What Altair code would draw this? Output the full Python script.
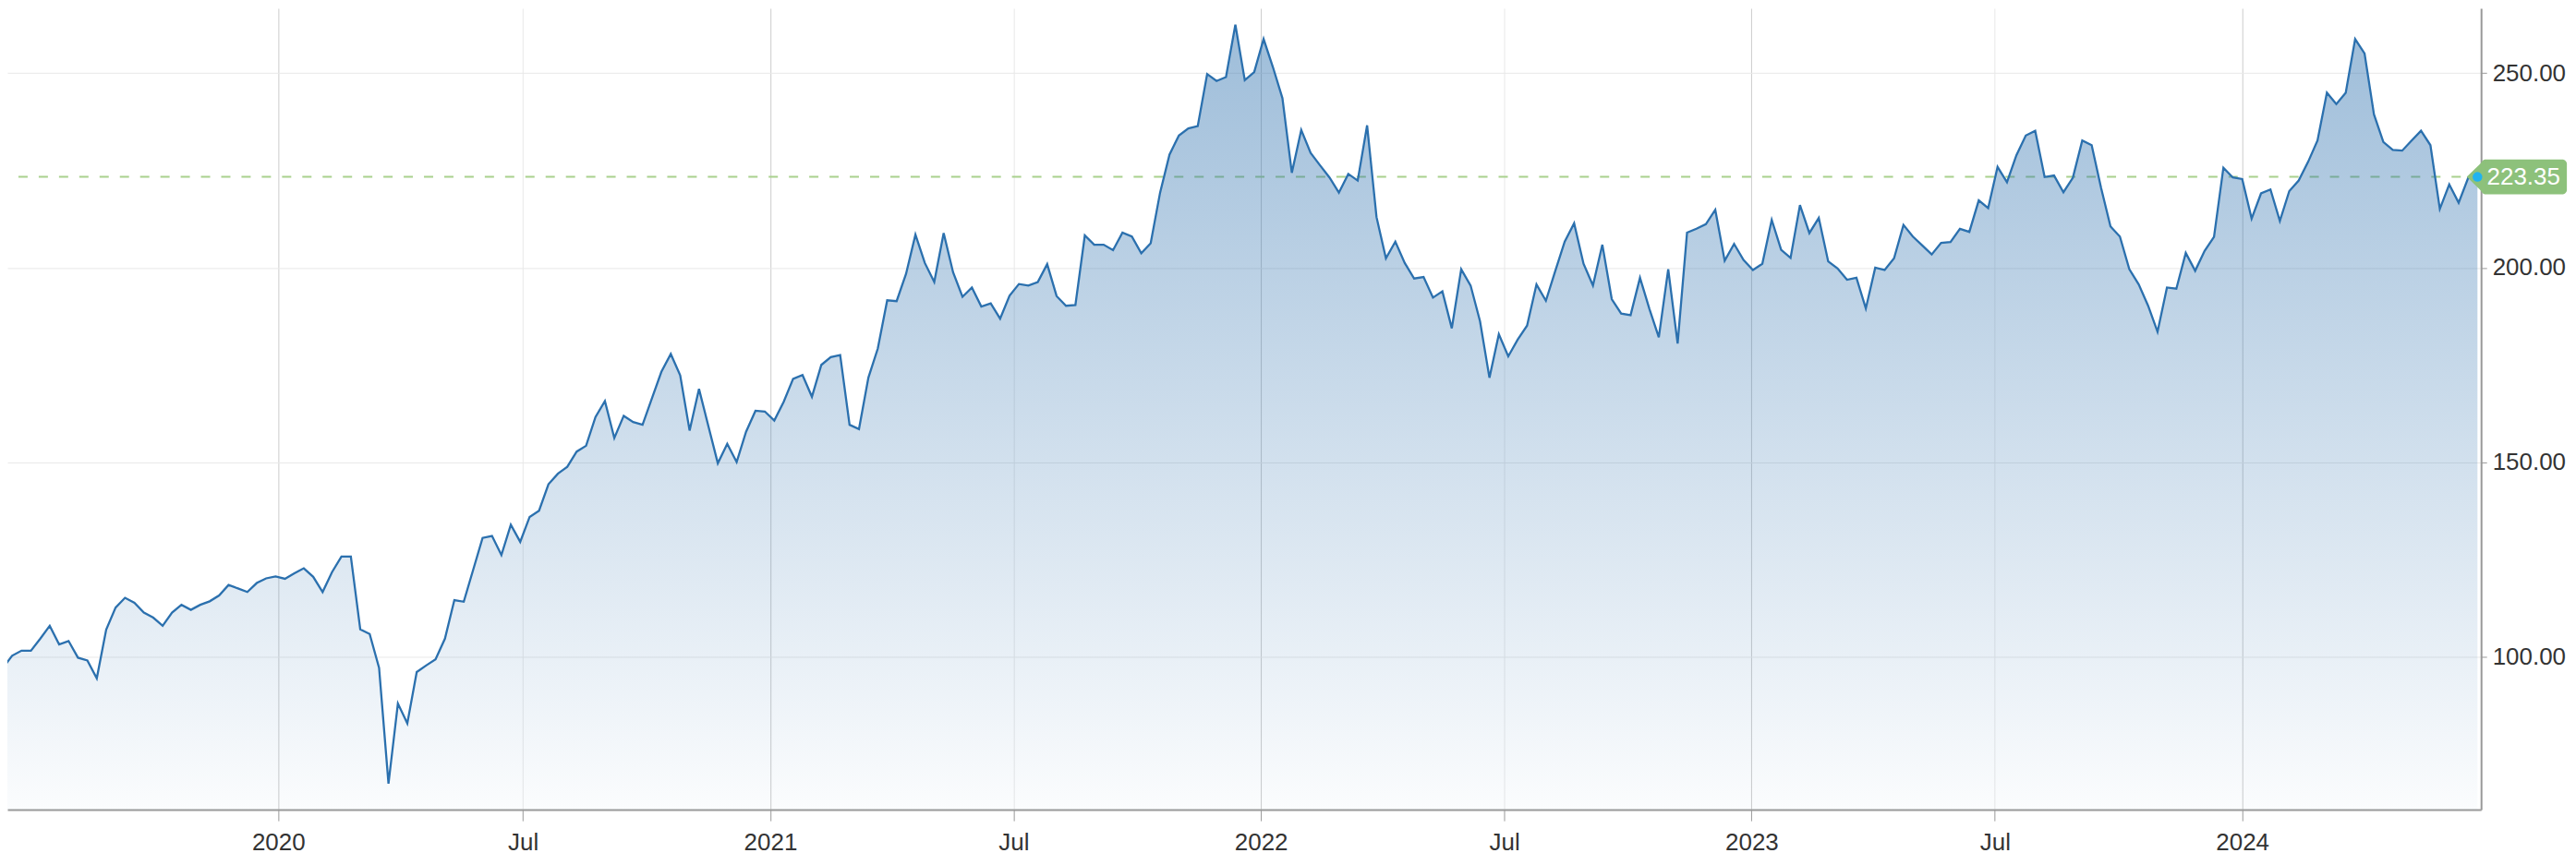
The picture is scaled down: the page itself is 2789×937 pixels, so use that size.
import altair as alt
import pandas as pd

# Weekly closing prices (Mondays)
start_date = "2019-06-10"
prices_2019 = [97.0, 100.2, 101.5, 101.5, 104.6, 107.9, 103.1, 104.0, 99.7, 99.0,
               94.4, 106.9, 112.6, 115.1, 113.8, 111.3, 110.0, 107.9, 111.3, 113.3,
               112.0, 113.3, 114.2, 115.7, 118.4, 117.5, 116.6, 118.9, 120.1, 120.6]
prices_2020 = [120.0, 121.4, 122.7, 120.5, 116.6, 121.7, 125.7, 125.7, 107.0, 105.8,
               97.1, 67.3, 87.9, 82.8, 96.0, 97.7, 99.3, 104.6, 114.5, 114.1,
               122.3, 130.5, 131.0, 126.1, 133.9, 129.5, 135.9, 137.5, 144.3, 147.0,
               148.8, 152.7, 154.2, 161.6, 165.7, 156.2, 161.9, 160.3, 159.6, 166.4,
               173.2, 177.8, 172.3, 158.1, 168.8, 159.2, 149.7, 154.7, 150.0, 157.8,
               163.2, 163.0]
prices_2021 = [160.7, 165.5, 171.4, 172.4, 166.8, 175.0, 177.0, 177.5, 159.6, 158.5,
               171.7, 179.2, 191.6, 191.4, 198.4, 208.5, 201.2, 196.3, 208.9, 198.8,
               192.5, 194.9, 190.0, 190.8, 186.9, 192.8, 195.8, 195.4, 196.3, 200.9,
               192.7, 190.2, 190.4, 208.3, 205.9, 205.9, 204.5, 209.0, 208.0, 203.7,
               206.3, 219.3, 229.1, 234.0, 235.8, 236.4, 249.8, 248.0, 249.0, 262.5,
               248.2, 250.3]
prices_2022 = [258.8, 251.5, 243.6, 224.4, 235.4, 229.5, 226.3, 223.2, 219.3, 224.1,
               222.4, 236.6, 213.0, 202.4, 206.7, 201.2, 197.2, 197.6, 192.3, 193.9,
               184.4, 199.6, 195.4, 186.2, 171.7, 182.9, 177.2, 181.5, 185.1, 195.7,
               191.5, 199.2, 206.7, 211.4, 201.0, 195.4, 205.9, 191.9, 188.2, 187.8,
               197.4, 189.4, 182.1, 199.6, 180.5, 209.0, 210.0, 211.2, 214.9, 201.8,
               206.1, 202.0]
prices_2023 = [199.4, 201.0, 212.3, 204.6, 202.5, 216.1, 208.9, 212.8, 201.6, 199.8,
               196.9, 197.4, 189.5, 200.0, 199.4, 202.4, 211.0, 208.0, 205.7, 203.4,
               206.4, 206.6, 210.0, 209.2, 217.3, 215.3, 225.9, 222.0, 228.9, 234.0,
               235.2, 223.3, 223.7, 219.4, 223.1, 232.7, 231.5, 220.5, 210.6, 208.0,
               199.6, 195.7, 190.2, 183.5, 194.9, 194.6, 203.8, 199.2, 204.3, 207.9,
               225.7, 223.2]
prices_2024 = [222.8, 212.6, 219.1, 220.1, 212.0, 219.7, 222.4, 227.2, 232.7, 245.0,
               242.1, 245.0, 258.8, 255.1, 239.4, 232.3, 230.3, 230.1, 232.7, 235.2,
               231.5, 215.1, 221.4, 216.7, 223.0, 223.35]

# Axis tick values
x_tick_dates = [(2020, 1), (2020, 7), (2021, 1), (2021, 7), (2022, 1),
                (2022, 7), (2023, 1), (2023, 7), (2024, 1)]
y_ticks = [100, 150, 200, 250]
y_domain = [60.6, 266.7]

all_prices = prices_2019 + prices_2020 + prices_2021 + prices_2022 + prices_2023 + prices_2024
dates = pd.date_range(start_date, periods=len(all_prices), freq="7D")
df = pd.DataFrame({"date": dates.strftime("%Y-%m-%d"), "price": all_prices})

last = df.iloc[[-1]].copy()
last["label"] = last["price"].map(lambda v: f"{v:.2f}")

FONT = "Liberation Sans"
LINE_COLOR = "#2b70ae"
LABEL_GREEN = "#8dc17b"

x_domain = [alt.DateTime(year=2019, month=6, date=13, hours=12, utc=True),
            alt.DateTime(year=2024, month=6, date=26, hours=16, utc=True)]

x_enc = alt.X(
    "date:T",
    scale=alt.Scale(type="utc", domain=x_domain),
    axis=alt.Axis(
        values=[alt.DateTime(year=y, month=m, date=1, utc=True) for (y, m) in x_tick_dates],
        labelExpr="utcmonth(datum.value) == 0 ? utcFormat(datum.value, '%Y') : utcFormat(datum.value, '%b')",
        grid=True,
        gridColor={"condition": {"test": "utcmonth(datum.value) == 0", "value": "#cccccc"},
                   "value": "#e8e8e8"},
        gridWidth=1,
        domainColor="#999999",
        domainWidth=2,
        tickColor="#999999",
        tickSize=12,
        tickWidth=1,
        labelFontSize=26,
        labelFont=FONT,
        labelColor="#333333",
        labelPadding=10,
        labelOverlap=False,
        title=None,
    ),
)

y_enc = alt.Y(
    "price:Q",
    scale=alt.Scale(domain=y_domain, zero=False, nice=False),
    axis=alt.Axis(
        orient="right",
        values=y_ticks,
        format=".2f",
        grid=True,
        gridColor="#e8e8e8",
        gridWidth=1,
        domainColor="#999999",
        domainWidth=2,
        tickColor="#999999",
        tickSize=6,
        labelPadding=6,
        labelFontSize=26,
        labelFont=FONT,
        labelColor="#333333",
        title=None,
    ),
)

gradient = alt.LinearGradient(
    gradient="linear",
    stops=[alt.GradientStop(color="rgba(43,111,173,0.46)", offset=0),
           alt.GradientStop(color="rgba(43,111,173,0.02)", offset=1)],
    x1=1, x2=1, y1=0, y2=1,
)

base = alt.Chart(df)

rule = alt.Chart(last).mark_rule(
    color="#a9d18e", strokeDash=[10, 12], strokeWidth=2
).encode(y=alt.Y("price:Q"))

area = base.mark_area(clip=True, color=gradient).encode(
    x=x_enc, y=y_enc, y2=alt.Y2(datum=y_domain[0])
)

line = base.mark_line(clip=True, color=LINE_COLOR, strokeWidth=2.3).encode(
    x="date:T", y="price:Q"
)

box = alt.Chart(last).mark_rect(
    color=LABEL_GREEN, cornerRadius=5, xOffset=4, x2Offset=97,
    yOffset=-19, y2Offset=19
).encode(x="date:T", x2="date:T", y="price:Q", y2="price:Q")

arrow = alt.Chart(last).mark_point(
    shape="M-0.82,0 L0.2,-1 L0.2,1 Z", filled=True, size=1444,
    color=LABEL_GREEN, opacity=1, xOffset=4, strokeWidth=0
).encode(x="date:T", y="price:Q")

text = alt.Chart(last).mark_text(
    dx=50, align="center", baseline="middle", fontSize=26, font=FONT, color="white"
).encode(x="date:T", y="price:Q", text="label:N")

dot = alt.Chart(last).mark_circle(color="#1fb3f0", size=110, opacity=1).encode(
    x="date:T", y="price:Q"
)

chart = alt.layer(rule, area, line, box, arrow, text, dot).properties(
    width=2684,
    height=870,
    padding={"left": 0, "top": 0, "right": 95, "bottom": 50},
    autosize=alt.AutoSizeParams(type="none"),
    background="white",
).configure_view(stroke=None)

chart.save("out.html", embed_options={"renderer": "svg", "actions": False})
